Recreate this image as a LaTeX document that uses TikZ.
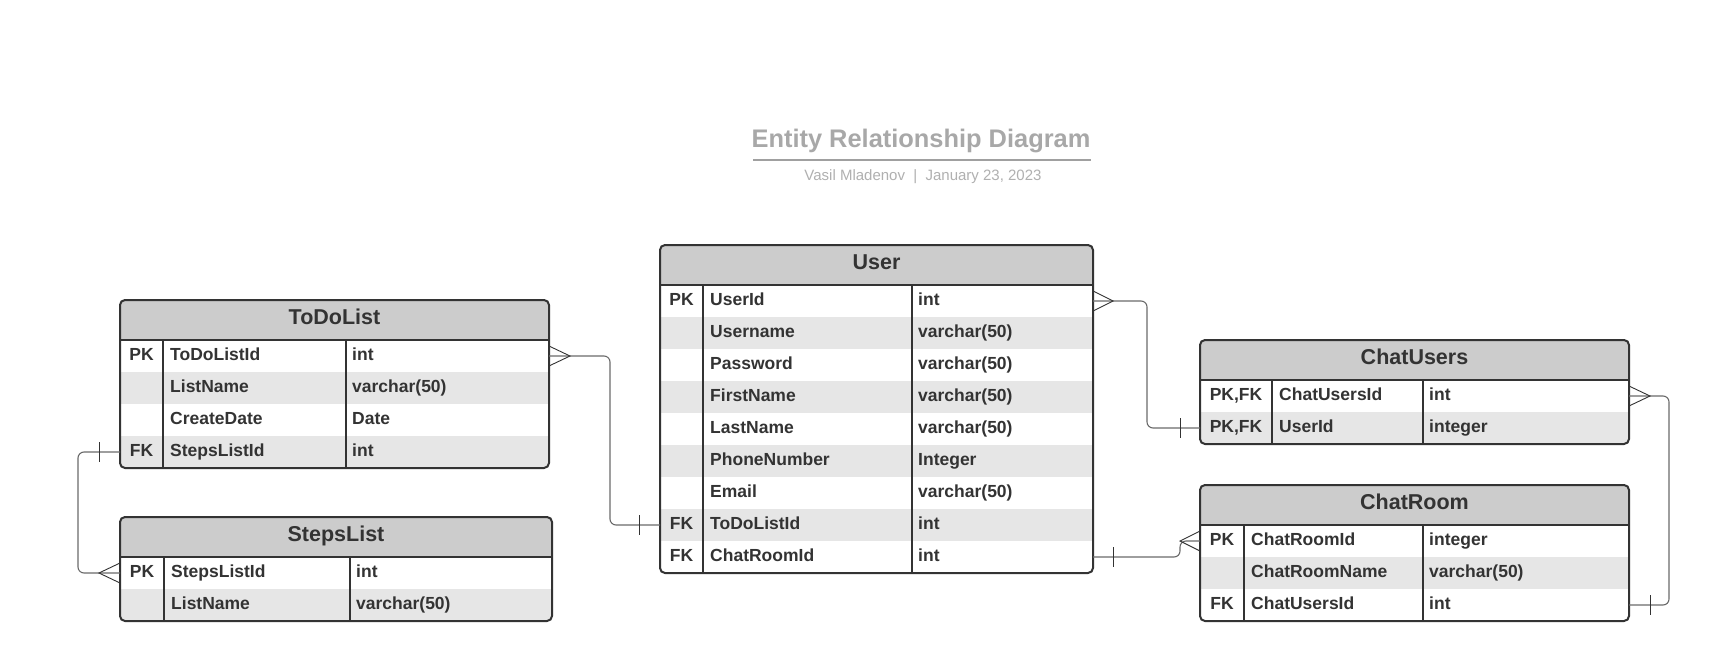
\documentclass[tikz,border=0pt]{standalone}
\usepackage{fontspec}
\setmainfont{Liberation Sans}
\usetikzlibrary{calc}
\definecolor{ink}{HTML}{333333}
\definecolor{hdr}{HTML}{CCCCCC}
\definecolor{alt}{HTML}{E6E6E6}
\definecolor{conngray}{HTML}{6A6A6A}
\definecolor{ttl}{HTML}{A8A8A8}
\definecolor{subttl}{HTML}{B0B0B0}
\definecolor{rulegray}{HTML}{A0A0A0}

\tikzset{
  rowtxt/.style={inner sep=0pt, text=ink, font=\fontsize{17.5}{20}\selectfont\bfseries},
  hdrtxt/.style={inner sep=0pt, anchor=base, text=ink, font=\fontsize{21.5}{25}\selectfont\bfseries},
  tblline/.style={draw=ink, line width=2pt},
  connector/.style={draw=conngray, line width=1.1pt, rounded corners=6pt},
  crowline/.style={draw=ink, line width=0.9pt},
}

% #1 name #2 L #3 T #4 R #5 c1 #6 c2 #7 nrows #8 title #9 rows
\newcommand{\ertable}[9]{%
  \pgfmathsetmacro{\erB}{#3+40+32*#7}
  \begin{scope}
    \clip[rounded corners=5pt] (#2,#3) rectangle (#4,\erB);
    \fill[white] (#2,#3) rectangle (#4,\erB);
    \fill[hdr] (#2,#3) rectangle (#4,#3+40);
    \foreach \i in {1,...,#7} {\ifodd\i\else
      \fill[alt] (#2,{#3+40+32*(\i-1)}) rectangle (#4,{#3+40+32*\i});\fi}
  \end{scope}
  \draw[tblline] (#2,#3+40) -- (#4,#3+40);
  \draw[tblline] (#5,#3+40) -- (#5,\erB);
  \draw[tblline] (#6,#3+40) -- (#6,\erB);
  \draw[tblline, rounded corners=5pt] (#2,#3) rectangle (#4,\erB);
  \node[hdrtxt] (#1-title) at ({(#2+#4)/2},#3+20+4.4) {#8};
  \foreach[count=\i] \fk/\fn/\ft in {#9} {
    \pgfmathsetmacro{\yy}{#3+40+32*(\i-0.5)}
    \coordinate (#1-r\i-w) at (#2,\yy);
    \coordinate (#1-r\i-e) at (#4,\yy);
    \node[rowtxt, anchor=base] (#1-k\i) at ({(#2+#5)/2},\yy+4.2) {\fk};
    \node[rowtxt, anchor=base west] (#1-n\i) at (#5+7,\yy+4.2) {\fn};
    \node[rowtxt, anchor=base west] (#1-t\i) at (#6+6,\yy+4.2) {\ft};
  }
}
% crow's foot with meeting point to the right (+) or left (-) of the box edge
\newcommand{\crow}[2]{%
  \draw[crowline] ($(#1)+(0,-10)$) -- ($(#1)+(#2,0)$) -- ($(#1)+(0,10)$);}
\newcommand{\tick}[2]{%
  \draw[crowline] ($(#1)+(#2,-10)$) -- ($(#1)+(#2,10)$);}

\begin{document}
\begin{tikzpicture}[x=1pt,y=-1pt]
\useasboundingbox[fill=white] (0,0) rectangle (1710,661);

% title
\node[inner sep=0pt, anchor=base, text=ttl, font=\fontsize{25.4}{30}\selectfont\bfseries] (title) at (921,147) {Entity Relationship Diagram};
\coordinate (ruleL) at (753,160);
\coordinate (ruleR) at (1091,160);
\draw[draw=rulegray, line width=1.8pt] (ruleL) -- (ruleR);
\node[inner sep=0pt, anchor=base, text=subttl, font=\fontsize{15}{18}\selectfont] (subtitle) at (923,180.5) {Vasil Mladenov~~|~~January 23, 2023};

% tables
\ertable{todo}{120}{300}{549}{163}{346}{4}{ToDoList}{PK/ToDoListId/int, {}/ListName/varchar(50), {}/CreateDate/Date, FK/StepsListId/int}
\ertable{steps}{120}{517}{552}{164}{350}{2}{StepsList}{PK/StepsListId/int, {}/ListName/varchar(50)}
\ertable{user}{660}{245}{1093}{703}{912}{9}{User}{PK/UserId/int, {}/Username/varchar(50), {}/Password/varchar(50), {}/FirstName/varchar(50), {}/LastName/varchar(50), {}/PhoneNumber/Integer, {}/Email/varchar(50), FK/ToDoListId/int, FK/ChatRoomId/int}
\ertable{cu}{1200}{340}{1629}{1272}{1423}{2}{ChatUsers}{{PK,FK}/ChatUsersId/int, {PK,FK}/UserId/integer}
\ertable{cr}{1200}{485}{1629}{1244}{1423}{3}{ChatRoom}{PK/ChatRoomId/integer, {}/ChatRoomName/varchar(50), FK/ChatUsersId/int}

% connectors
\draw[connector] (todo-r1-e) -- ($(todo-r1-e)+(61,0)$) |- (user-r8-w);
\crow{todo-r1-e}{21}
\tick{user-r8-w}{-21}

\draw[connector] (todo-r4-w) -- ($(todo-r4-w)+(-42,0)$) |- (steps-r1-w);
\tick{todo-r4-w}{-21}
\crow{steps-r1-w}{-21}

\draw[connector] (user-r1-e) -- ($(user-r1-e)+(54,0)$) |- (cu-r2-w);
\crow{user-r1-e}{20}
\tick{cu-r2-w}{-20}

\draw[connector] (user-r9-e) -- ($(user-r9-e)+(87,0)$) |- (cr-r1-w);
\tick{user-r9-e}{20}
\crow{cr-r1-w}{-20}

\draw[connector] (cu-r1-e) -- ($(cu-r1-e)+(40,0)$) |- (cr-r3-e);
\crow{cu-r1-e}{21}
\tick{cr-r3-e}{21}
\end{tikzpicture}
\end{document}
